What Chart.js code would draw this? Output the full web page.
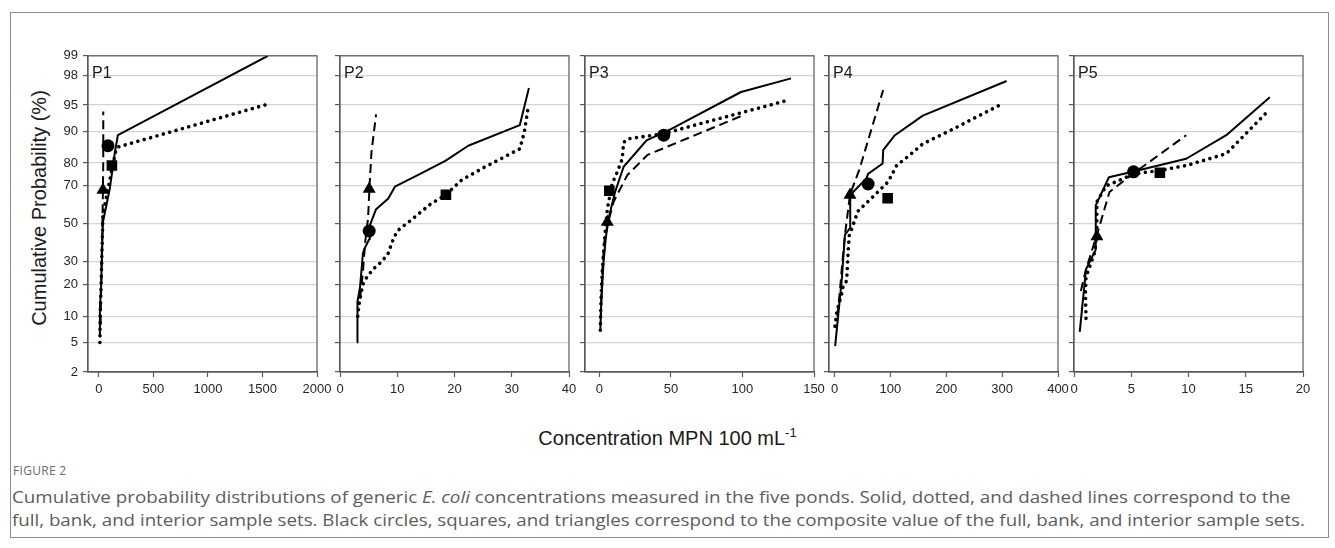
<!DOCTYPE html>
<html>
<head>
<meta charset="utf-8">
<script src="https://cdn.jsdelivr.net/npm/chart.js@4.4.1/dist/chart.umd.min.js"></script>
<style>
  body { margin: 0; background: #fff; }
  #page { position: relative; width: 1335px; height: 548px; overflow: hidden; background: #fff; }
  #frame { position: absolute; left: 10px; top: 12px; width: 1319px; height: 526px; border: 1px solid #8c8c8c; box-sizing: border-box; }
  canvas { position: absolute; }
  .ytitle { position: absolute; left: 39px; top: 208px; font: 20px "Liberation Sans", Arial, sans-serif; color: #1a1a1a;
            transform: translate(-50%, -50%) rotate(-90deg); white-space: nowrap; }
  .xtitle { position: absolute; left: 0; width: 1335px; top: 425px; text-align: center; font: 20px "Liberation Sans", Arial, sans-serif; color: #1a1a1a; }
  .xtitle sup { font-size: 13px; vertical-align: 8px; }
  .fig { position: absolute; left: 13px; top: 462px; font: 12px "Open Sans", sans-serif; color: #6b6b6b; letter-spacing: 0.3px; }
  .cap { position: absolute; left: 12px; font: 17px "Open Sans", sans-serif; color: #5c5c5c; white-space: nowrap; transform-origin: 0 0; }
</style>
</head>
<body>
<div id="page">
  <div id="frame"></div>
  <div class="ytitle">Cumulative Probability (%)</div>
  <div class="xtitle">Concentration MPN 100 mL<sup>-1</sup></div>
  <div class="fig">FIGURE 2</div>
  <div class="cap" id="cap1" style="top:485px">Cumulative probability distributions of generic <i>E. coli</i> concentrations measured in the five ponds. Solid, dotted, and dashed lines correspond to the</div>
  <div class="cap" id="cap2" style="top:508px">full, bank, and interior sample sets. Black circles, squares, and triangles correspond to the composite value of the full, bank, and interior sample sets.</div>
</div>
<script>
// probability axis ticks (%)
const yTickLabels = [2, 5, 10, 20, 30, 50, 70, 80, 90, 95, 98, 99];

const panelNames = ['P1', 'P2', 'P3', 'P4', 'P5'];
const xRanges = [[-100, 2000], [0, 40], [-10, 150], [-10, 400], [0, 20]];
const xTickValues = [
  [0, 500, 1000, 1500, 2000],
  [0, 10, 20, 30, 40],
  [0, 50, 100, 150],
  [0, 100, 200, 300, 400],
  [0, 5, 10, 15, 20]
];

// full sample set (solid)
const fullX = [
  [9, 9, 20, 37, 101, 147, 174, 1550],
  [3.0, 3.0, 3.1, 3.5, 4.0, 4.2, 5.1, 5.2, 6.3, 8.4, 9.6, 14, 18.4, 22.4, 31.4, 33.0],
  [0.7, 1.5, 3, 4.5, 6.5, 11, 17, 33, 50, 99, 134],
  [1, 12.7, 18.6, 27.6, 28, 57, 60, 86, 87, 108, 158, 308],
  [0.5, 1.05, 1.9, 1.9, 3.05, 5.2, 9.8, 13.3, 17.1]
];
const fullY = [
  [6, 12, 19, 51, 69, 84, 89, 99],
  [5, 10, 14, 19, 34, 36, 41.5, 49, 58, 63.6, 69.6, 75.5, 80.8, 86, 91.4, 97],
  [7, 15, 30, 42, 53, 67, 78.5, 87.6, 90.5, 96.6, 97.8],
  [4.5, 21.5, 44, 47.6, 65.5, 73.5, 75.5, 79.8, 84.6, 89, 93.3, 97.6],
  [6.7, 26.4, 36, 60, 74, 76.5, 81.6, 89, 96]
];

// bank sample set (dotted)
const bankX = [
  [9, 12, 20, 37, 101, 156, 174, 1523],
  [3.1, 3.3, 3.6, 4.0, 4.7, 5.8, 7.3, 8.4, 9.1, 10, 12.8, 15.7, 18.5, 21.3, 25.3, 31.4, 32.2, 32.8],
  [0.7, 1.2, 2, 3, 4.2, 5.6, 9, 12.6, 16, 17, 19.6, 45, 62, 133],
  [0.7, 2.5, 3.8, 8, 12.7, 15, 21.6, 24, 26.4, 30.6, 42, 66, 96, 111, 135, 158, 212, 301],
  [1.05, 1.0, 1.05, 1.83, 2.0, 2.0, 2.4, 2.8, 4.0, 5.2, 7.5, 9.8, 13.3, 16.8]
];
const bankY = [
  [5, 10, 20, 55, 73, 84.6, 85.6, 95],
  [10, 13, 16, 20, 23, 26.5, 30, 34, 40, 46, 53, 60.5, 65.6, 72.9, 78.4, 85, 89.8, 94.3],
  [7, 15, 25, 35, 46, 58, 71, 76.4, 81.5, 87, 88, 89.4, 91, 95.7],
  [7.8, 9.5, 11, 13.5, 16.5, 19, 21.5, 34, 44, 47, 57, 63.8, 72, 79, 83, 86.6, 90.5, 95.2],
  [9.5, 17, 23, 35, 46, 62, 66, 70, 72.7, 75.5, 77, 79, 83.4, 93.8]
];

// interior sample set (dashed)
const interiorX = [
  [15, 25, 35, 40, 40],
  [3.5, 4.0, 4.4, 4.9, 5.2, 5.5, 6.3],
  [1, 2, 3.5, 5.6, 10, 19.6, 33.7, 99],
  [5, 9.7, 14, 18.6, 27.6, 45, 66, 87],
  [0.6, 1.05, 2.1, 3.1, 5.0, 9.8]
];
const interiorY = [
  [8, 30, 60, 80, 94],
  [15, 25, 40, 53, 72, 84, 93.5],
  [10, 25, 40, 49, 62, 75, 83, 93.2],
  [10, 18, 30, 44, 65.6, 77.8, 90.5, 96.8],
  [17.6, 26.4, 46, 67, 75, 89]
];

// composite values: circle = full, square = bank, triangle = interior
const circleX = [83, 5.1, 45, 60, 5.2];
const circleY = [86, 46, 89, 70.9, 76.4];
const squareX = [119, 18.5, 7, 95, 7.5];
const squareY = [79, 65.6, 67.6, 63.8, 76];
const triangleX = [37, 5.1, 5.6, 27.6, 2.0];
const triangleY = [68, 68.5, 51, 65.5, 43];

// inverse normal CDF (Acklam)
function probit(p) {
  const a = [-3.969683028665376e+01, 2.209460984245205e+02, -2.759285104469687e+02, 1.383577518672690e+02, -3.066479806614716e+01, 2.506628277459239e+00];
  const b = [-5.447609879822406e+01, 1.615858368580409e+02, -1.556989798598866e+02, 6.680131188771972e+01, -1.328068155288572e+01];
  const c = [-7.784894002430293e-03, -3.223964580411365e-01, -2.400758277161838e+00, -2.549732539343734e+00, 4.374664141464968e+00, 2.938163982698783e+00];
  const d = [7.784695709041462e-03, 3.224671290700398e-01, 2.445134137142996e+00, 3.754408661907416e+00];
  const pl = 0.02425;
  let q, r;
  if (p < pl) {
    q = Math.sqrt(-2 * Math.log(p));
    return (((((c[0]*q+c[1])*q+c[2])*q+c[3])*q+c[4])*q+c[5]) / ((((d[0]*q+d[1])*q+d[2])*q+d[3])*q+1);
  }
  if (p > 1 - pl) {
    q = Math.sqrt(-2 * Math.log(1 - p));
    return -(((((c[0]*q+c[1])*q+c[2])*q+c[3])*q+c[4])*q+c[5]) / ((((d[0]*q+d[1])*q+d[2])*q+d[3])*q+1);
  }
  q = p - 0.5; r = q * q;
  return (((((a[0]*r+a[1])*r+a[2])*r+a[3])*r+a[4])*r+a[5])*q / (((((b[0]*r+b[1])*r+b[2])*r+b[3])*r+b[4])*r+1);
}

function toPoints(xs, ys) {
  return xs.map((x, k) => ({ x: x, y: probit(ys[k] / 100) }));
}

// layout of the five plot boxes
const plotLefts = [88, 340, 585, 829, 1074];
const plotTop = 53, plotW = 229, plotH = 319;
const padTop = 10, padRight = 20, xAxisH = 32;

const axisColor = '#595959';
const tickFont = { family: '"Liberation Sans", Arial, sans-serif', size: 13 };

// box around each plot + panel name
const boxPlugin = {
  id: 'box',
  afterDraw(chart, args, opts) {
    const { ctx, chartArea: a } = chart;
    ctx.save();
    ctx.strokeStyle = axisColor;
    ctx.lineWidth = 1.2;
    ctx.strokeRect(a.left, a.top, a.right - a.left, a.bottom - a.top);
    ctx.fillStyle = '#1a1a1a';
    ctx.font = '16px "Liberation Sans", Arial, sans-serif';
    ctx.textBaseline = 'alphabetic';
    ctx.fillText(opts.name, a.left + 4, a.top + 22);
    ctx.restore();
  }
};

function lineSet(xs, ys, dash, width) {
  return {
    data: toPoints(xs, ys), showLine: true, pointRadius: 0,
    borderColor: '#000', borderWidth: width, borderDash: dash,
    borderCapStyle: dash.length && dash[0] < 1 ? 'round' : 'butt',
    borderJoinStyle: 'round', tension: 0
  };
}

function markerSet(x, y, style, radius) {
  return {
    data: toPoints([x], [y]), showLine: false, pointStyle: style,
    pointRadius: radius, backgroundColor: '#000', borderColor: '#000', borderWidth: 0
  };
}

panelNames.forEach((name, i) => {
  const yW = i === 0 ? 38 : 12;
  const canvas = document.createElement('canvas');
  const cw = yW + plotW + padRight, ch = padTop + plotH + xAxisH;
  canvas.width = cw; canvas.height = ch;
  canvas.style.left = (plotLefts[i] - yW) + 'px';
  canvas.style.top = (plotTop - padTop) + 'px';
  canvas.style.width = cw + 'px'; canvas.style.height = ch + 'px';
  document.getElementById('page').appendChild(canvas);

  new Chart(canvas, {
    type: 'scatter',
    data: {
      datasets: [
        lineSet(fullX[i], fullY[i], [], 2),
        lineSet(bankX[i], bankY[i], [0.01, 6.6], 3.6),
        lineSet(interiorX[i], interiorY[i], [9, 5], 2),
        markerSet(circleX[i], circleY[i], 'circle', 6.5),
        markerSet(squareX[i], squareY[i], 'rect', 7.5),
        markerSet(triangleX[i], triangleY[i], 'triangle', 7.5)
      ]
    },
    options: {
      responsive: false,
      animation: false,
      devicePixelRatio: 1,
      events: [],
      layout: { autoPadding: false, padding: { top: padTop, right: padRight, left: 0, bottom: 0 } },
      plugins: { legend: { display: false }, tooltip: { enabled: false }, box: { name: name } },
      scales: {
        x: {
          type: 'linear',
          min: xRanges[i][0], max: xRanges[i][1],
          afterBuildTicks: s => { s.ticks = xTickValues[i].map(v => ({ value: v })); },
          afterFit: s => { s.height = xAxisH; },
          grid: { drawOnChartArea: false, tickLength: 5, tickColor: axisColor, tickWidth: 1.2 },
          border: { color: axisColor, width: 1.2 },
          ticks: { font: tickFont, color: '#262626', padding: 5, maxRotation: 0, autoSkip: false,
                   callback: v => String(v) }
        },
        y: {
          type: 'linear',
          min: probit(0.02), max: probit(0.99),
          afterBuildTicks: s => { s.ticks = yTickLabels.map(p => ({ value: probit(p / 100) })); },
          afterFit: s => { s.width = yW; },
          grid: { color: '#d4d4d4', lineWidth: 1.2, tickLength: 5, tickColor: axisColor, tickWidth: 1.2 },
          border: { color: axisColor, width: 1.2 },
          ticks: { font: tickFont, color: '#262626', padding: 5, autoSkip: false,
                   callback: (v, k) => i === 0 ? String(yTickLabels[k]) : '' }
        }
      }
    },
    plugins: [boxPlugin]
  });
});

// fit caption lines to their width in the figure
[['cap1', 1278], ['cap2', 1293]].forEach(([id, w]) => {
  const el = document.getElementById(id);
  el.style.transform = 'scaleX(' + (w / el.offsetWidth) + ')';
});
</script>
</body>
</html>
